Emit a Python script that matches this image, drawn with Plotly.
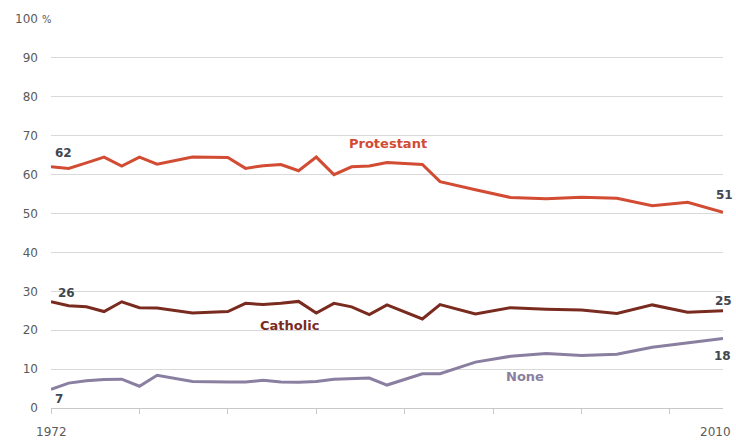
import plotly.graph_objects as go

years = [1972, 1973, 1974, 1975, 1976, 1977, 1978, 1980, 1982, 1983, 1984, 1985, 1986, 1987,
         1988, 1989, 1990, 1991, 1993, 1994, 1996, 1998, 2000, 2002, 2004, 2006, 2008, 2010]
protestant = [62.0, 61.6, 63.0, 64.5, 62.2, 64.5, 62.7, 64.5, 64.4, 61.6, 62.3, 62.6, 61.0, 64.5,
              60.0, 62.0, 62.2, 63.1, 62.6, 58.2, 56.1, 54.1, 53.8, 54.2, 53.9, 52.0, 52.9, 50.3]
catholic = [27.3, 26.3, 26.0, 24.8, 27.3, 25.8, 25.7, 24.4, 24.8, 26.9, 26.6, 26.9, 27.4, 24.4,
            26.9, 26.0, 24.0, 26.5, 22.9, 26.6, 24.2, 25.8, 25.4, 25.2, 24.3, 26.5, 24.6, 25.0]
none = [4.8, 6.4, 7.0, 7.3, 7.4, 5.6, 8.4, 6.8, 6.7, 6.7, 7.1, 6.7, 6.6, 6.8,
        7.4, 7.6, 7.7, 5.9, 8.8, 8.8, 11.8, 13.3, 14.0, 13.5, 13.8, 15.6, 16.8, 17.9]

y_ticks = [0, 10, 20, 30, 40, 50, 60, 70, 80, 90, 100]
y_ticktext = ["0", "10", "20", "30", "40", "50", "60", "70", "80", "90", "100"]
x_ticks = [1972, 1977, 1982, 1987, 1992, 1997, 2002, 2007]
start_labels = ["62", "26", "7"]
end_labels = ["51", "25", "18"]

C_PROT = "#d24b33"
C_CATH = "#7a2b1f"
C_NONE = "#8a7fa0"
C_NUM = "#3f4750"
C_TICK = "#5a5a5a"
FONT = "Verdana, DejaVu Sans, sans-serif"

fig = go.Figure()
fig.add_trace(go.Scatter(x=years, y=protestant, mode="lines", name="Protestant",
                         line=dict(color=C_PROT, width=3), cliponaxis=False))
fig.add_trace(go.Scatter(x=years, y=catholic, mode="lines", name="Catholic",
                         line=dict(color=C_CATH, width=3), cliponaxis=False))
fig.add_trace(go.Scatter(x=years, y=none, mode="lines", name="None",
                         line=dict(color=C_NONE, width=3), cliponaxis=False))

ann = []
def label(text, x, y, color, size=12, bold=True, xref="x", yref="y", xshift=0):
    t = f"<b>{text}</b>" if bold else text
    ann.append(dict(text=t, x=x, y=y, xref=xref, yref=yref, showarrow=False,
                    font=dict(family=FONT, size=size, color=color), xshift=xshift,
                    xanchor="center", yanchor="middle"))

label("Protestant", 1991.06, 68.1, C_PROT, 13)
label("Catholic", 1985.5, 21.2, C_CATH, 13)
label("None", 1998.8, 8.2, C_NONE, 13)
label(start_labels[0], 1972.7, 65.6, C_NUM, 12)
label(start_labels[1], 1972.85, 29.6, C_NUM, 12)
label(start_labels[2], 1972.45, 2.3, C_NUM, 12)
label(end_labels[0], 2010, 54.8, C_NUM, 12, xshift=1)
label(end_labels[1], 2010, 27.6, C_NUM, 12, xshift=0)
label(end_labels[2], 2010, 13.3, C_NUM, 12, xshift=-1)
label("1972", 1972, -0.061, C_TICK, 12, bold=False, yref="paper")
label("2010", 2009.6, -0.061, C_TICK, 12, bold=False, yref="paper")
label("%", -0.006, 1.0, C_TICK, 10, bold=False, xref="paper", yref="paper")

fig.update_layout(
    width=736, height=441,
    margin=dict(l=51, r=13, t=16, b=33),
    paper_bgcolor="white", plot_bgcolor="white",
    showlegend=False,
    annotations=ann,
    xaxis=dict(range=[1972, 2010], tickvals=x_ticks, ticktext=[""] * len(x_ticks),
               ticks="outside", ticklen=5, tickcolor="#c8c8c8", showgrid=False,
               showline=True, linecolor="#c8c8c8", linewidth=1, zeroline=False),
    yaxis=dict(range=[0, 100], tickvals=y_ticks, ticktext=y_ticktext,
               showgrid=True, gridcolor="#d9d9d9", gridwidth=1, zeroline=False,
               ticks="", ticklabelstandoff=12,
               tickfont=dict(family=FONT, size=12, color=C_TICK)),
)

fig.write_html("out.html", config={"displayModeBar": False},
               post_script="document.body.style.margin='0';document.body.style.padding='0';")
